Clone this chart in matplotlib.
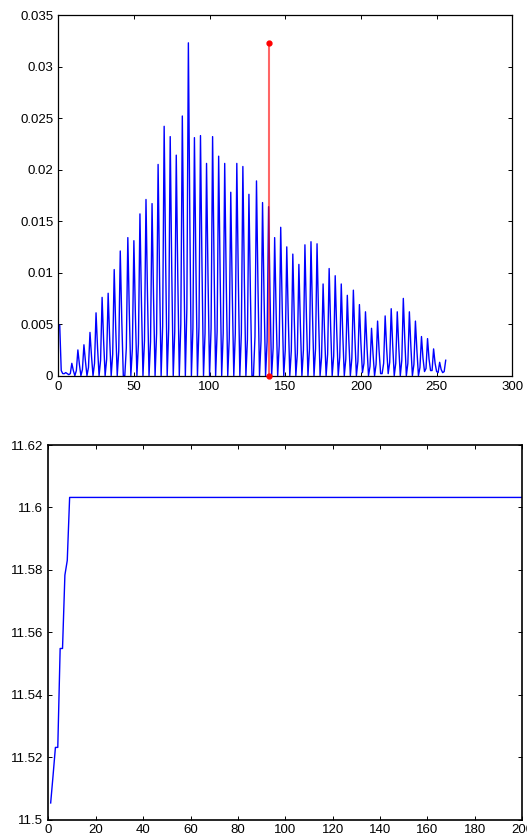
import numpy as np
import matplotlib
matplotlib.use("Agg")
import matplotlib.pyplot as plt

plt.rcParams['font.family'] = ['Liberation Sans', 'DejaVu Sans']
plt.rcParams['font.size'] = 9.5

# ---------------- data: top chart (256-bin histogram) ----------------
# peak bins (from bin 9 on) with their heights, and the estimated values of
# the bins just before (pre) and just after (post) each peak
peak_bins = [9, 13, 17, 21, 25, 29, 33, 37, 41, 46, 50, 54, 58, 62,
             66, 70, 74, 78, 82, 86, 90, 94, 98, 102, 106, 110, 114, 118, 122, 126,
             131, 135, 139, 143, 147, 151, 155, 159, 163, 167, 171, 175, 179, 183, 187, 191,
             195, 199, 203, 207, 211, 216, 220, 224, 228, 232, 236, 240, 244, 248, 252, 256]
peak_vals = [0.0012, 0.0025, 0.0030, 0.0042, 0.0061, 0.0076, 0.0080, 0.0103,
             0.0121, 0.0134, 0.0131, 0.0157, 0.0171, 0.0167, 0.0205, 0.0242, 0.0232, 0.0214,
             0.0252, 0.0323, 0.0231, 0.0233, 0.0206, 0.0232, 0.0213, 0.0206, 0.0178, 0.0206,
             0.0203, 0.0176, 0.0189, 0.0168, 0.0164, 0.0134, 0.0144, 0.0125, 0.0118, 0.0108,
             0.0127, 0.0130, 0.0128, 0.0089, 0.0104, 0.0097, 0.0089, 0.0078, 0.0083, 0.0069,
             0.0062, 0.0046, 0.0053, 0.0058, 0.0065, 0.0062, 0.0075, 0.0062, 0.0053, 0.0038,
             0.0036, 0.0026, 0.0013, 0.0015]
pre_vals = [0.0002, 0.0005, 0.0006, 0.0008, 0.0012, 0.0015, 0.0016, 0.0021,
            0.0024, 0.0027, 0.0026, 0.0031, 0.0034, 0.0033, 0.0041, 0.0048, 0.0046, 0.0043,
            0.0050, 0.0065, 0.0046, 0.0047, 0.0041, 0.0046, 0.0043, 0.0041, 0.0036, 0.0041,
            0.0041, 0.0035, 0.0038, 0.0034, 0.0033, 0.0027, 0.0029, 0.0025, 0.0024, 0.0022,
            0.0025, 0.0026, 0.0026, 0.0018, 0.0021, 0.0019, 0.0018, 0.0016, 0.0017, 0.0014,
            0.0012, 0.0009, 0.0011, 0.0012, 0.0013, 0.0012, 0.0015, 0.0012, 0.0011, 0.0008,
            0.0007, 0.0005, 0.0003, 0.0004]
post_vals = [0.0005, 0.0011, 0.0014, 0.0019, 0.0027, 0.0034, 0.0036, 0.0046,
             0.0054, 0.0060, 0.0059, 0.0071, 0.0077, 0.0075, 0.0092, 0.0109, 0.0104, 0.0096,
             0.0113, 0.0145, 0.0104, 0.0105, 0.0093, 0.0104, 0.0096, 0.0093, 0.0080, 0.0093,
             0.0091, 0.0079, 0.0085, 0.0076, 0.0074, 0.0060, 0.0065, 0.0056, 0.0053, 0.0049,
             0.0057, 0.0059, 0.0058, 0.0040, 0.0047, 0.0044, 0.0040, 0.0035, 0.0037, 0.0031,
             0.0028, 0.0021, 0.0024, 0.0026, 0.0029, 0.0028, 0.0034, 0.0028, 0.0024, 0.0017,
             0.0016, 0.0012, 0.0006, 0.0000]
# first bins and the few non-zero valleys between peaks
low_bins = [1, 2, 3, 4, 5, 6, 7, 201, 213, 214, 218, 242, 246, 250, 254]
low_vals = [0.0049, 0.0005, 0.0002, 0.0002, 0.0003, 0.0002, 0.0001, 0.0003, 0.0002,
            0.0002, 0.0002, 0.0004, 0.0005, 0.0004, 0.0003]
marker_bin = 139

top_xticks = [0, 50, 100, 150, 200, 250, 300]
top_yticks = [0, 0.005, 0.01, 0.015, 0.02, 0.025, 0.03, 0.035]
top_yticklabels = ["0", "0.005", "0.01", "0.015", "0.02", "0.025", "0.03", "0.035"]

# ---------------- data: bottom chart ----------------
curve_x = [1, 2, 3, 4, 5, 6, 7, 8, 9, 200]
curve_y = [11.5053, 11.5140, 11.5231, 11.5231, 11.5548, 11.5548, 11.5783, 11.5830, 11.6032, 11.6032]
bot_xticks = [0, 20, 40, 60, 80, 100, 120, 140, 160, 180, 200]
bot_yticks = [11.5, 11.52, 11.54, 11.56, 11.58, 11.6, 11.62]
bot_yticklabels = ["11.5", "11.52", "11.54", "11.56", "11.58", "11.6", "11.62"]

# build histogram array
hist = np.zeros(256)
for b, v in zip(low_bins, low_vals):
    hist[b - 1] = v
for b, v, a, c in zip(peak_bins, peak_vals, pre_vals, post_vals):
    hist[b - 1] = v
    hist[b - 2] = a
    if b < 256:
        hist[b] = c
bins = np.arange(1, 257)

W, H = 527, 838
fig = plt.figure(figsize=(W / 100, H / 100), dpi=100)

def style(ax, lw):
    for s in ax.spines.values():
        s.set_linewidth(lw)
        s.set_color('black')
    ax.tick_params(direction='in', top=True, right=True, length=3, width=0.7,
                   pad=3.5, labelsize=9.5, colors='black')

# top axes
ax1 = fig.add_axes([58.2 / W, 1 - 375.7 / H, 454.1 / W, 360.7 / H])
ax1.plot(bins, hist, color='#0000ff', lw=1.0)
ymax = hist.max()
ax1.plot([marker_bin, marker_bin], [0, ymax], color='red', alpha=0.6, lw=1.5, zorder=3)
ax1.plot([marker_bin, marker_bin], [0, ymax], 'o', color='red', ms=3.5, mec='red',
         zorder=4, clip_on=False)
ax1.set_xlim(0, 300)
ax1.set_ylim(0, 0.035)
ax1.set_xticks(top_xticks)
ax1.set_xticklabels([str(t) for t in top_xticks])
ax1.set_yticks(top_yticks)
ax1.set_yticklabels(top_yticklabels)
style(ax1, 0.9)

# bottom axes
ax2 = fig.add_axes([48.3 / W, 1 - 819.5 / H, 474.0 / W, 374.5 / H])
ax2.plot(curve_x, curve_y, color='#0000ff', lw=1.0)
ax2.set_xlim(0, 200)
ax2.set_ylim(11.5, 11.62)
ax2.set_xticks(bot_xticks)
ax2.set_xticklabels([str(t) for t in bot_xticks])
ax2.set_yticks(bot_yticks)
ax2.set_yticklabels(bot_yticklabels)
style(ax2, 1.2)

fig.savefig("out.png", dpi=100)
